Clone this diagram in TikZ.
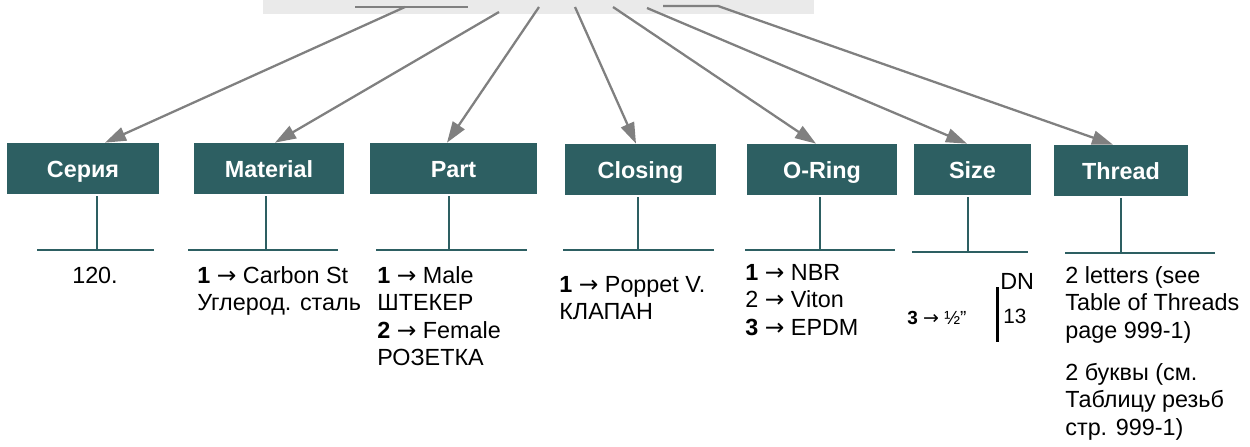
\documentclass[tikz,border=0pt]{standalone}
\usepackage{fontspec}
\setmainfont{Liberation Sans}
\newfontfamily\arrowfont{DejaVu Sans}
\newcommand{\toarrow}{{\arrowfont →}}
\usetikzlibrary{arrows.meta, calc}
\definecolor{boxteal}{RGB}{45, 95, 98}
\definecolor{arrowgray}{RGB}{128, 128, 128}
\definecolor{bandgray}{RGB}{234, 234, 234}

\begin{document}
\begin{tikzpicture}[x=0.02cm, y=-0.02cm,
  fieldbox/.style={rectangle, fill=boxteal, text=white, inner sep=0pt, minimum height=1.02cm, text height=11.5pt, text depth=1.2pt, font=\fontsize{13.3}{16}\selectfont\bfseries},
  pick/.style={-{Triangle[length=0.42cm, width=0.28cm]}, line width=1.3pt, arrowgray},
  stem/.style={line width=1.1pt, boxteal, shorten <=0.04cm},
  bar/.style={line width=1.4pt, boxteal},
  code/.style={anchor=base west, inner sep=0pt, align=left, font=\fontsize{13.3}{15.6}\selectfont}]
\useasboundingbox (0,0) rectangle (1250,446);
\fill[bandgray] (263,0) rectangle (814,14);
% field boxes
\node[fieldbox, minimum width=3.04cm] (seria) at (83,168.5) {Серия};
\node[fieldbox, minimum width=3cm] (material) at (269,168.5) {Material};
\node[fieldbox, minimum width=3.34cm] (part) at (453.5,168.5) {Part};
\node[fieldbox, minimum width=3.02cm] (closing) at (640.5,169.5) {Closing};
\node[fieldbox, minimum width=3cm] (oring) at (822,169.5) {O-Ring};
\node[fieldbox, minimum width=2.34cm] (size) at (972.5,169.5) {Size};
\node[fieldbox, minimum width=2.68cm] (thread) at (1121,170.5) {Thread};
% arrows from the code band
\coordinate (s1) at (405,7);
\coordinate (s2) at (499,12);
\coordinate (s3) at (539,7);
\coordinate (s4) at (575,7);
\coordinate (s5) at (613,7);
\coordinate (s6) at (647,8);
\coordinate (s7) at (663,6);
\coordinate (s7b) at (718,6);
\draw[line width=1.3pt, arrowgray] (355,7) -- (468,7);
\draw[pick] (s1) -- ($(seria.north)+(22,0)$);
\draw[pick] (s2) -- ($(material.north)+(6,0)$);
\draw[pick] (s3) -- ($(part.north)+(-6.5,0)$);
\draw[pick] (s4) -- ($(closing.north)+(-4.5,0)$);
\draw[pick] (s5) -- ($(oring.north)+(-6,0)$);
\draw[pick] (s6) -- ($(size.north)+(-5.5,0)$);
\draw[pick] (s7) -- (s7b) -- ($(thread.north)+(-8,0)$);
% stems and bars
\coordinate (seriabar) at (97,250);
\coordinate (materialbar) at (266,250);
\coordinate (partbar) at (449,250);
\coordinate (closingbar) at (638,250);
\coordinate (oringbar) at (820,250);
\coordinate (sizebar) at (968,252);
\coordinate (threadbar) at (1121,253);
\draw[stem] (seria.south -| seriabar) -- (seriabar);
\draw[stem] (material.south -| materialbar) -- (materialbar);
\draw[stem] (part.south -| partbar) -- (partbar);
\draw[stem] (closing.south -| closingbar) -- (closingbar);
\draw[stem] (oring.south -| oringbar) -- (oringbar);
\draw[stem] (size.south -| sizebar) -- (sizebar);
\draw[stem] (thread.south -| threadbar) -- (threadbar);
\draw[bar] (37,250) -- (154,250);
\draw[bar] (188,250) -- (338,250);
\draw[bar] (376,250) -- (527,250);
\draw[bar] (563,250) -- (714,250);
\draw[bar] (745,250) -- (895,250);
\draw[bar] (912,252) -- (1028,252);
\draw[bar] (1065,253) -- (1215,253);
% values (base = last line)
\node[code, anchor=base] (seriatext) at (95,283) {120.};
\node[code] (materialtext) at (197,310.5) {\textbf{1} \toarrow{} Carbon St\\Углерод. сталь};
\node[code] (parttext) at (377,365.5) {\textbf{1} \toarrow{} Male\\ШТЕКЕР\\\textbf{2} \toarrow{} Female\\РОЗЕТКА};
\node[code] (closingtext) at (559,319.5) {\textbf{1} \toarrow{} Poppet V.\\КЛАПАН};
\node[code] (oringtext) at (745,335) {\textbf{1} \toarrow{} NBR\\2 \toarrow{} Viton\\\textbf{3} \toarrow{} EPDM};
\node[code] (dn) at (1000,289) {DN};
\node[code, font=\fontsize{11.8}{14}\selectfont] (dnvalue) at (1003,323) {13};
\node[code, font=\fontsize{10.8}{13}\selectfont] (sizetext) at (907,324) {\textbf{3} \toarrow{} ½”};
\draw[line width=1.7pt] (997,287) -- (997,342);
\node[code] (threadtext) at (1065,338) {2 letters (see\\Table of Threads\\page 999-1)};
\node[code] (threadtextru) at (1065,435) {2 буквы (см.\\Таблицу резьб\\стр. 999-1)};
\end{tikzpicture}
\end{document}
